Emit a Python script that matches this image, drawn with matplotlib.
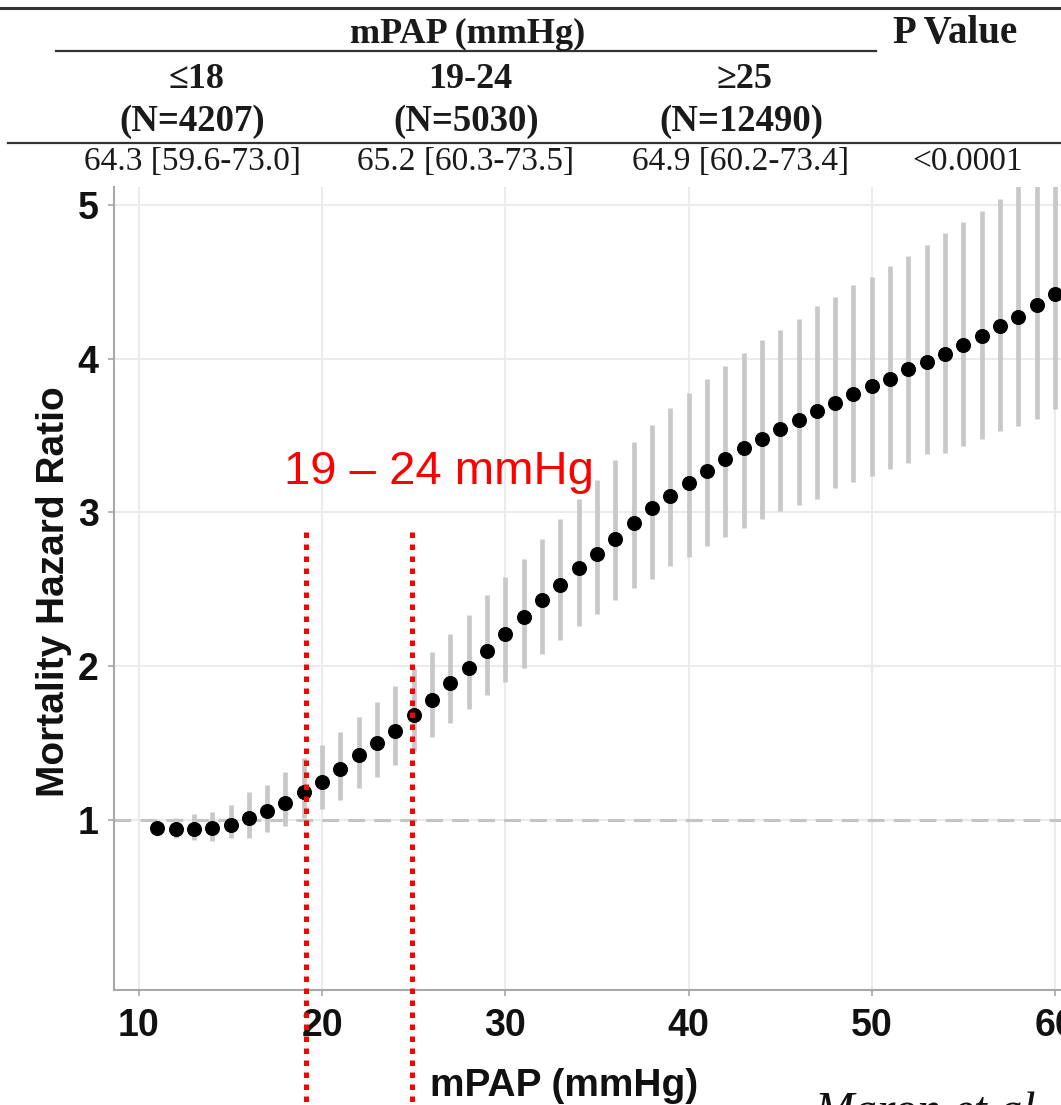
import matplotlib
matplotlib.use("Agg")
import matplotlib.pyplot as plt
from matplotlib.lines import Line2D

# ---------------- data ----------------
mpap = list(range(11, 61))
hr = [0.95, 0.94, 0.94, 0.95, 0.97, 1.01, 1.06, 1.11, 1.18, 1.25,
      1.33, 1.42, 1.50, 1.58, 1.68, 1.78, 1.89, 1.99, 2.10, 2.21,
      2.32, 2.43, 2.53, 2.64, 2.73, 2.83, 2.93, 3.03, 3.11, 3.19,
      3.27, 3.35, 3.42, 3.48, 3.54, 3.60, 3.66, 3.71, 3.77, 3.82,
      3.87, 3.93, 3.98, 4.03, 4.09, 4.15, 4.21, 4.27, 4.35, 4.42]
hr_lower = [0.90, 0.88, 0.87, 0.86, 0.88, 0.88, 0.92, 0.96, 1.01, 1.07,
            1.13, 1.21, 1.28, 1.36, 1.45, 1.54, 1.63, 1.72, 1.81, 1.90,
            1.99, 2.08, 2.17, 2.26, 2.34, 2.43, 2.51, 2.57, 2.65, 2.71,
            2.78, 2.84, 2.90, 2.96, 3.01, 3.05, 3.09, 3.16, 3.20, 3.24,
            3.28, 3.32, 3.38, 3.39, 3.43, 3.48, 3.53, 3.56, 3.61, 3.67]
hr_upper = [1.00, 1.01, 1.04, 1.05, 1.10, 1.18, 1.23, 1.31, 1.40, 1.49,
            1.57, 1.67, 1.77, 1.87, 1.98, 2.09, 2.21, 2.33, 2.46, 2.58,
            2.70, 2.83, 2.96, 3.09, 3.21, 3.34, 3.46, 3.57, 3.68, 3.78,
            3.87, 3.95, 4.04, 4.12, 4.19, 4.26, 4.34, 4.40, 4.48, 4.53,
            4.60, 4.67, 4.74, 4.82, 4.89, 4.96, 5.04, 5.13, 5.22, 5.30]

x_ticks = [10, 20, 30, 40, 50, 60]
y_ticks = [1, 2, 3, 4, 5]
highlight_range = [19.1, 24.9]
highlight_label = "19 – 24 mmHg"

table_groups = ["≤18", "19-24", "≥25"]
table_counts = ["(N=4207)", "(N=5030)", "(N=12490)"]
table_values = ["64.3 [59.6-73.0]", "65.2 [60.3-73.5]", "64.9 [60.2-73.4]"]
table_p = "<0.0001"

# ---------------- figure ----------------
W, H = 1061, 1105
fig = plt.figure(figsize=(W / 100, H / 100), dpi=100)

def fx(px):
    return px / W

def fy(py):
    return 1 - py / H

ax_left, ax_right, ax_top, ax_bottom = 114, 1082.5, 187, 990
ax = fig.add_axes([fx(ax_left), fy(ax_bottom), (ax_right - ax_left) / W, (ax_bottom - ax_top) / H])
ax.set_xlim(8.64, 61.5)
ax.set_ylim(-0.106, 5.117)

grey_grid = "#ebebeb"
ax.set_axisbelow(True)
ax.grid(True, color=grey_grid, linewidth=1.5)
ax.axhline(1, color="#c4c4c4", linewidth=2.2, linestyle=(0, (5.5, 3)), zorder=1.5)

ax.vlines(mpap, hr_lower, hr_upper, color="#c8c8c8", linewidth=3.4, zorder=2)
ax.plot(mpap, hr, "o", color="black", markersize=9.8, zorder=3)

for xv in highlight_range:
    ax.plot([xv, xv], [2.87, -0.95], color="red", linewidth=3.6,
            linestyle=(0, (1.1, 1.3)), dash_capstyle="butt",
            clip_on=False, zorder=4)

ax.text(26.4, 3.185, highlight_label, color="red",
        fontsize=34, family=["Liberation Sans", "DejaVu Sans"],
        ha="center", va="baseline")

for s in ["top", "right"]:
    ax.spines[s].set_visible(False)
for s in ["left", "bottom"]:
    ax.spines[s].set_color("#a8a8a8")
    ax.spines[s].set_linewidth(1.5)

ax.set_xticks(x_ticks)
ax.set_yticks(y_ticks)
ax.tick_params(axis="both", colors="#a8a8a8", length=4, width=1.2,
               labelcolor="#111111", labelsize=27)
ax.tick_params(axis="x", pad=9)
ax.tick_params(axis="y", pad=7)
for lab in ax.get_xticklabels() + ax.get_yticklabels():
    lab.set_fontfamily(["Liberation Sans", "DejaVu Sans"])
    lab.set_fontweight("bold")

ax.set_xlabel("mPAP (mmHg)", fontsize=28, fontweight="bold",
              family=["Liberation Sans", "DejaVu Sans"], color="#111111")
ax.set_ylabel("Mortality Hazard Ratio", fontsize=28, fontweight="bold",
              family=["Liberation Sans", "DejaVu Sans"], color="#111111")
ax.xaxis.set_label_coords(0.4646, -0.097)
ax.yaxis.set_label_coords(-0.043, 0.4956)

# ---------------- table on top ----------------
serif = ["Liberation Serif", "DejaVu Serif"]
tcol = "#1a1a1a"
fig.add_artist(Line2D([fx(0), fx(W)], [fy(8), fy(8)], transform=fig.transFigure,
                      color="#333333", linewidth=2.2))
fig.add_artist(Line2D([fx(56), fx(876)], [fy(51), fy(51)], transform=fig.transFigure,
                      color="#333333", linewidth=1.6))
fig.add_artist(Line2D([fx(8), fx(W)], [fy(143), fy(143)], transform=fig.transFigure,
                      color="#333333", linewidth=1.6))

fig.text(fx(468), fy(34), "mPAP (mmHg)", fontsize=26, fontweight="bold",
         family=serif, color=tcol, ha="center", va="center")
fig.text(fx(955), fy(34), "P Value", fontsize=28, fontweight="bold",
         family=serif, color=tcol, ha="center", va="center")

group_x = [196, 470, 745]
for gx, g, n, v in zip(group_x, table_groups, table_counts, table_values):
    fig.text(fx(gx), fy(79), g, fontsize=26, fontweight="bold", family=serif,
             color=tcol, ha="center", va="center")
    fig.text(fx(gx - 4), fy(121), n, fontsize=26.5, fontweight="bold", family=serif,
             color=tcol, ha="center", va="center")
    fig.text(fx(gx - 4), fy(162), v, fontsize=24, family=serif,
             color=tcol, ha="center", va="center")
fig.text(fx(968), fy(162), table_p, fontsize=24, family=serif,
         color=tcol, ha="center", va="center")

# citation partially cut at the bottom
fig.text(fx(815), fy(1124), "Maron et al.", fontsize=34, style="italic",
         family=serif, color="#111111", ha="left", va="baseline")

fig.savefig("out.png", dpi=100)
